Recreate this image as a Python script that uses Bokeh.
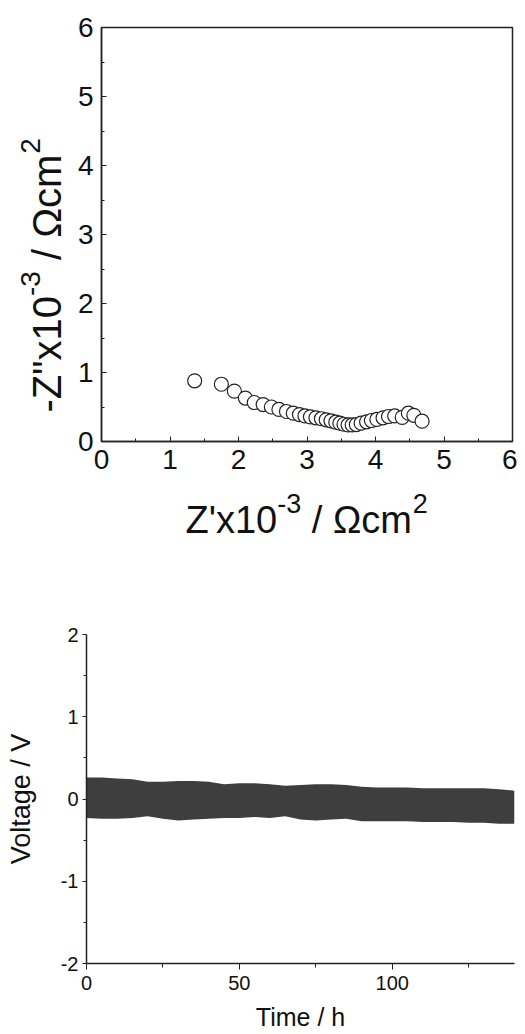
import math
from bokeh.plotting import figure
from bokeh.layouts import column, row
from bokeh.models import Range1d, FixedTicker, PrintfTickFormatter
from bokeh.core.properties import value
from bokeh.embed import file_html
from bokeh.resources import INLINE

FONT = "Liberation Sans"
INK = "#111111"

# ---- Nyquist data (Z' and -Z'' in 10^3 Ohm cm^2) ----
z_real = [1.36, 1.75, 1.94, 2.10, 2.23, 2.36, 2.48, 2.59, 2.70, 2.80, 2.89, 2.97,
          3.05, 3.13, 3.21, 3.28, 3.35, 3.42, 3.48, 3.54, 3.60, 3.66, 3.72, 3.79,
          3.87, 3.94, 4.02, 4.11, 4.19, 4.28, 4.39, 4.48, 4.56, 4.68]
z_imag = [0.88, 0.83, 0.73, 0.63, 0.565, 0.535, 0.50, 0.465, 0.435, 0.41, 0.39, 0.37,
          0.357, 0.343, 0.33, 0.314, 0.30, 0.28, 0.265, 0.25, 0.24, 0.24, 0.246, 0.265,
          0.285, 0.304, 0.32, 0.343, 0.362, 0.37, 0.35, 0.41, 0.38, 0.294]

# ---- Voltage cycling envelope (h, V) ----
time_h = [0, 5, 10, 15, 20, 25, 30, 35, 40, 45, 50, 55, 60, 65, 70, 75, 80, 85, 90,
          95, 100, 105, 110, 115, 120, 125, 130, 135, 140]
v_upper = [0.26, 0.26, 0.25, 0.24, 0.21, 0.21, 0.22, 0.22, 0.21, 0.18, 0.19, 0.19, 0.18,
           0.16, 0.17, 0.18, 0.18, 0.17, 0.15, 0.14, 0.14, 0.14, 0.13, 0.13, 0.13, 0.13,
           0.13, 0.12, 0.10]
v_lower = [-0.23, -0.24, -0.24, -0.23, -0.21, -0.24, -0.26, -0.25, -0.24, -0.23, -0.23,
           -0.22, -0.23, -0.21, -0.25, -0.26, -0.25, -0.24, -0.27, -0.27, -0.27, -0.27,
           -0.28, -0.28, -0.28, -0.29, -0.29, -0.30, -0.30]

top_ticks = [0, 1, 2, 3, 4, 5, 6]
top_minor = [0.5, 1.5, 2.5, 3.5, 4.5, 5.5]
volt_ticks = [-2, -1, 0, 1, 2]
volt_minor = [-1.5, -0.5, 0.5, 1.5]
time_ticks = [0, 50, 100]
time_minor = [25, 75, 125]

# Arial / Liberation Sans advance widths (em)
ADV = {"Z": 0.611, "'": 0.191, '"': 0.355, "x": 0.5, "1": 0.556, "0": 0.556,
       "-": 0.333, "3": 0.556, " ": 0.278, "/": 0.278, "Ω": 0.768, "c": 0.5,
       "m": 0.833, "2": 0.556}
BASE_FIX = 0.33   # bokeh places alphabetic text ~0.33 em lower than expected


def adv(s, size):
    return sum(ADV[ch] for ch in s) * size


def strip_fig(w, h, left, right, top, bottom, xr, yr):
    f = figure(width=w, height=h, output_backend="svg", toolbar_location=None,
               x_range=Range1d(*xr), y_range=Range1d(*yr),
               x_axis_type=None, y_axis_type=None,
               min_border_left=left, min_border_right=right,
               min_border_top=top, min_border_bottom=bottom)
    f.grid.visible = False
    f.outline_line_color = None
    return f


def piece(f, text, x, y, size, angle=0.0):
    f.text(x=[x], y=[y], text=[text], text_font=value(FONT),
           text_font_size=value(f"{size}px"), text_color=INK,
           text_align="left", text_baseline="alphabetic", angle=angle)


# ---------------- top figure ----------------
YLW = 70            # width of the y-label strip
H1 = 480            # height of the top plot canvas
XLH = 65            # height of the x-label strip
L1, T1, FW1, FH1 = 101, 27, 411, 414
B1 = H1 - T1 - FH1
W1 = 517 - YLW
p1 = figure(width=W1, height=H1, output_backend="svg", toolbar_location=None,
            x_range=Range1d(0, 6), y_range=Range1d(0, 6),
            min_border_left=L1 - YLW, min_border_right=517 - L1 - FW1,
            min_border_top=T1, min_border_bottom=B1)
p1.grid.visible = False
p1.outline_line_color = "#222222"
p1.outline_line_width = 1.5

p1.scatter(z_real, z_imag, marker="circle", size=14, fill_color="white",
           line_color="#222222", line_width=1.2)

for ax in (p1.xaxis[0], p1.yaxis[0]):
    ax.ticker = FixedTicker(ticks=top_ticks, minor_ticks=top_minor)
    ax.major_label_text_font = FONT
    ax.major_label_text_font_size = "28px"
    ax.major_label_text_color = INK
    ax.axis_line_color = "#222222"
    ax.axis_line_width = 1.5
    ax.major_tick_in = 5
    ax.major_tick_out = 0
    ax.minor_tick_in = 3
    ax.minor_tick_out = 0
    ax.major_tick_line_color = "#222222"
    ax.minor_tick_line_color = "#222222"
    ax.major_label_standoff = 8
p1.yaxis[0].major_label_orientation = "horizontal"

# y label strip (data: x = page x, y = -page y), frame rows match p1's frame
ylab = strip_fig(YLW, H1, 0, 0, T1, B1, (0, YLW), (-(T1 + FH1), -T1))
F2, S2, RISE2 = 40, 28, 21
py, basex = 412.0, 60.0
for t, sup in [('-Z"x10', False), ("-3", True), ("/ Ωcm", False), ("2", True)]:
    if t.startswith("/"):
        py -= adv(" ", F2)
    size = S2 if sup else F2
    bx = basex - (RISE2 if sup else 0) - BASE_FIX * size
    piece(ylab, t, bx, -py, size, angle=math.pi / 2)
    py -= adv(t, size)

# ---------------- bottom figure geometry ----------------
W2, H2 = 517, 1034 - H1 - XLH
L2, FW2, FH2 = 86, 428, 329
T2 = 634 - H1 - XLH
R2 = W2 - L2 - FW2

# x label strip (data: x = page x, y = -page y), columns match p2's frame
xlab = strip_fig(517, XLH, L2, R2, 0, 0, (L2, L2 + FW2), (-(H1 + XLH), -H1))
F, S, RISE = 38, 27, 20
px, base = 185.0, 532.0
for t, sup in [("Z'x10", False), ("-3", True), ("/ Ωcm", False), ("2", True)]:
    if t.startswith("/"):
        px += adv(" ", F)
    size = S if sup else F
    by = base - (RISE if sup else 0) - BASE_FIX * size
    piece(xlab, t, px, -by, size)
    px += adv(t, size)

# ---------------- bottom figure ----------------
p2 = figure(width=W2, height=H2, output_backend="svg", toolbar_location=None,
            x_range=Range1d(0, 140), y_range=Range1d(-2, 2),
            min_border_left=L2, min_border_right=R2,
            min_border_top=T2, min_border_bottom=H2 - T2 - FH2)
p2.grid.visible = False
p2.outline_line_color = None

p2.varea(x=time_h, y1=v_lower, y2=v_upper, fill_color="#3e3e3e")

p2.xaxis[0].ticker = FixedTicker(ticks=time_ticks, minor_ticks=time_minor)
p2.yaxis[0].ticker = FixedTicker(ticks=volt_ticks, minor_ticks=volt_minor)
p2.xaxis[0].axis_label = "Time / h"
p2.yaxis[0].axis_label = "Voltage / V"
for ax in (p2.xaxis[0], p2.yaxis[0]):
    ax.formatter = PrintfTickFormatter(format="%d")
    ax.major_label_text_font = FONT
    ax.major_label_text_font_size = "20px"
    ax.major_label_text_color = INK
    ax.axis_label_text_font = FONT
    ax.axis_label_text_font_style = "normal"
    ax.axis_label_text_color = INK
    ax.axis_line_color = "#222222"
    ax.axis_line_width = 1.5
    ax.major_tick_line_color = "#222222"
    ax.minor_tick_line_color = "#222222"
    ax.major_tick_in = 0
    ax.minor_tick_in = 0
p2.xaxis[0].axis_label_text_font_size = "25px"
p2.yaxis[0].axis_label_text_font_size = "27px"
p2.xaxis[0].major_tick_out = 6
p2.xaxis[0].minor_tick_out = 4
p2.yaxis[0].major_tick_out = 4
p2.yaxis[0].minor_tick_out = 3
p2.xaxis[0].major_label_standoff = 6
p2.yaxis[0].major_label_standoff = 4
p2.xaxis[0].axis_label_standoff = 10
p2.yaxis[0].axis_label_standoff = 22
p2.yaxis[0].major_label_orientation = "horizontal"

layout = column(row(ylab, p1, spacing=0), xlab, p2, spacing=0)
open("out.html", "w").write(file_html(layout, INLINE))
